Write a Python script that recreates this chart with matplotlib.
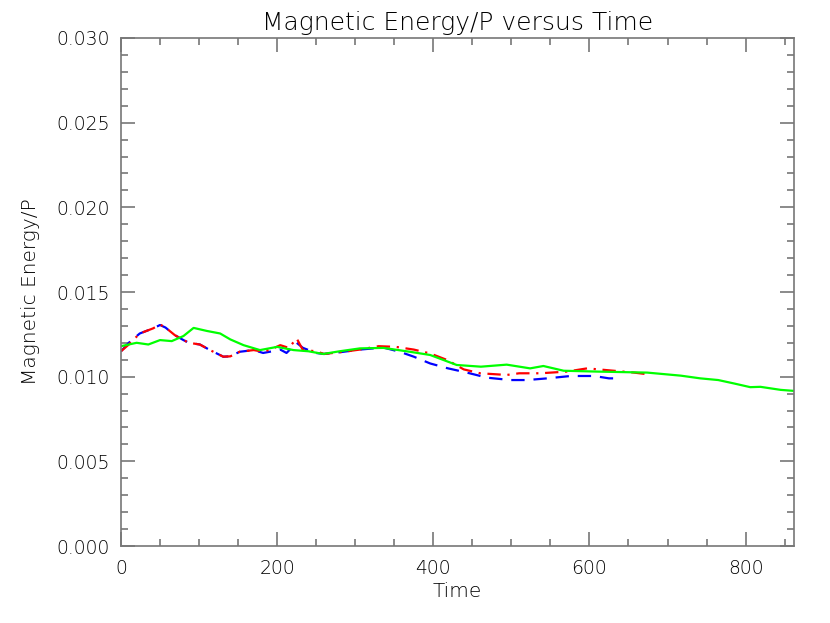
import numpy as np
import matplotlib
matplotlib.use("Agg")
import matplotlib.pyplot as plt
from matplotlib.ticker import MultipleLocator

# run 1 (dashed blue)
t_blue = [0, 10, 24, 41, 50, 57, 69, 80, 87, 101, 114, 131, 140, 152, 170, 182, 194, 204,
          212, 225, 233, 250, 260, 285, 306, 336, 357, 375, 396, 418, 443, 469, 499, 520,
          546, 576, 606, 625, 636]
e_blue = [0.0115, 0.0120, 0.01255, 0.01285, 0.01305, 0.0129, 0.01245, 0.01216, 0.0120,
          0.0119, 0.01157, 0.01118, 0.0112, 0.01147, 0.01157, 0.01140, 0.01150, 0.01160,
          0.01140, 0.01200, 0.01170, 0.0114, 0.01134, 0.01147, 0.0116, 0.01172, 0.01147,
          0.01118, 0.01078, 0.0105, 0.01024, 0.00994, 0.0098, 0.0098, 0.0099, 0.01004,
          0.01004, 0.0099, 0.0099]

# run 2 (dash-dot red)
t_red = [0, 10, 24, 41, 50, 57, 69, 80, 87, 101, 114, 131, 140, 152, 170, 182, 194, 204,
         215, 225, 233, 250, 260, 285, 306, 330, 352, 375, 396, 418, 439, 460, 494, 510,
         537, 571, 597, 631, 657, 675]
e_red = [0.0115, 0.0119, 0.01255, 0.01285, 0.01308, 0.0129, 0.01245, 0.01216, 0.0120,
         0.0119, 0.01157, 0.01118, 0.0112, 0.01147, 0.01157, 0.01147, 0.01165, 0.01186,
         0.01170, 0.01226, 0.01157, 0.0115, 0.01134, 0.01147, 0.0116, 0.0118, 0.01176,
         0.0116, 0.01137, 0.01098, 0.01043, 0.0102, 0.0101, 0.0102, 0.0102, 0.0103,
         0.01049, 0.01035, 0.01024, 0.01014]

# run 3 (solid green)
t_green = [0, 20, 35, 50, 65, 80, 93, 110, 127, 140, 157, 178, 200, 221, 240, 259, 280,
           306, 336, 370, 396, 430, 461, 494, 524, 541, 567, 610, 674, 717, 742, 765, 785,
           806, 819, 845, 862]
e_green = [0.0118, 0.0120, 0.0119, 0.01216, 0.0121, 0.0124, 0.01288, 0.0127, 0.01255,
           0.0122, 0.01186, 0.01157, 0.01176, 0.01157, 0.0115, 0.01134, 0.0115, 0.01167,
           0.0117, 0.01147, 0.01128, 0.01069, 0.01059, 0.01071, 0.01049, 0.01063, 0.01035,
           0.0103, 0.01024, 0.01006, 0.0099, 0.0098, 0.0096, 0.00938, 0.0094, 0.00922,
           0.00916]

plt.rcParams['font.family'] = ['DejaVu Sans']
plt.rcParams['font.weight'] = 'light'
fig = plt.figure(figsize=(8.3, 6.23), dpi=100, facecolor="w")
ax = fig.add_axes([121 / 830, 77 / 623, (794 - 121) / 830, (546 - 38) / 623])

ax.plot(t_blue, e_blue, color="#0000ff", lw=1.6, dashes=(6, 4))
ax.plot(t_red, e_red, color="#ff0000", lw=1.6, dashes=(6, 3, 1, 3))
ax.plot(t_green, e_green, color="#00ff00", lw=1.6)

ax.set_xlim(0, 862)
ax.set_ylim(0, 0.030)
ax.xaxis.set_major_locator(MultipleLocator(200))
ax.xaxis.set_minor_locator(MultipleLocator(50))
ax.yaxis.set_major_locator(MultipleLocator(0.005))
ax.yaxis.set_minor_locator(MultipleLocator(0.001))
ax.yaxis.set_major_formatter(plt.FormatStrFormatter('%.3f'))

axis_col = "#777777"
for sp in ax.spines.values():
    sp.set_color(axis_col)
    sp.set_linewidth(1.2)
ax.tick_params(which="both", direction="in", top=True, right=True,
               color=axis_col, width=1.2, labelsize=13.5, labelcolor="black")
ax.tick_params(which="major", length=10)
ax.tick_params(which="minor", length=5)
ax.tick_params(axis="x", pad=9)
ax.tick_params(axis="y", pad=8)

ax.set_title("Magnetic Energy/P versus Time", fontsize=18, pad=6, color="black",
             fontweight="light")
ax.set_xlabel("Time", fontsize=14.5, labelpad=3, color="black", fontweight="light")
ax.set_ylabel("Magnetic Energy/P", fontsize=14.5, labelpad=12, color="black",
              fontweight="light")

fig.savefig("out.png", dpi=100)
